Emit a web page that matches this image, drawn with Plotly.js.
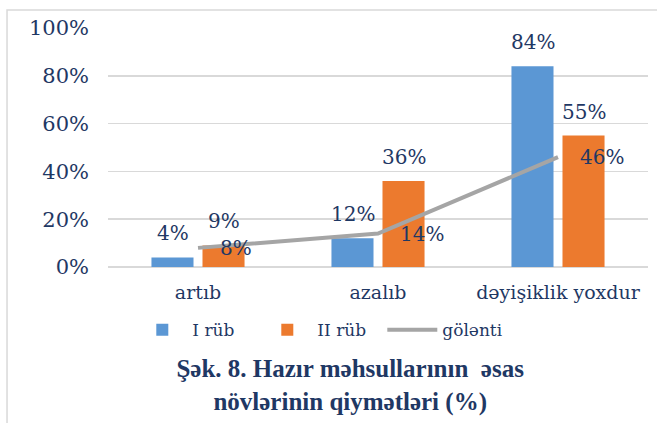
<!DOCTYPE html>
<html><head><meta charset="utf-8">
<script src="https://cdn.plot.ly/plotly-3.0.1.min.js"></script>
<style>html,body{margin:0;padding:0;background:#fff}#chart{width:657px;height:423px}</style>
</head><body><div id="chart"></div>
<script>
const categories = ['artıb', 'azalıb', 'dəyişiklik yoxdur'];
const seriesNames = ['I rüb', 'II rüb', 'gölənti'];
const q1 = [4, 12, 84];
const q2 = [9, 36, 55];
const expectation = [8, 14, 46];
const yTicks = [0, 20, 40, 60, 80, 100];
const yTickLabels = yTicks.map(v => v + '%');
const titleText = 'Şək. 8. Hazır məhsullarının  əsas<br>növlərinin qiymətləri (%)';

const NAVY = '#1F3864';
const SERIF = 'DejaVu Serif, serif';

const traces = [
  {type: 'bar', name: seriesNames[0], x: categories, y: q1,
   marker: {color: '#5B97D4'}, hoverinfo: 'none'},
  {type: 'bar', name: seriesNames[1], x: categories, y: q2,
   marker: {color: '#EC7A2E'}, hoverinfo: 'none'},
  {type: 'scatter', mode: 'lines', name: seriesNames[2], x: categories, y: expectation,
   line: {color: '#A5A5A5', width: 4}, hoverinfo: 'none'}
];

const annotations = [];
categories.forEach((c, i) => {
  annotations.push({x: c, y: q1[i], text: q1[i] + '%', showarrow: false, xshift: -25.5,
    yanchor: 'bottom', yshift: 10, font: {family: SERIF, size: 20, color: NAVY}});
  annotations.push({x: c, y: q2[i], text: q2[i] + '%', showarrow: false, xshift: 25.5,
    yanchor: 'bottom', yshift: 10, font: {family: SERIF, size: 20, color: NAVY}});
  annotations.push({x: c, y: expectation[i], text: expectation[i] + '%', showarrow: false,
    xanchor: 'left', xshift: 20, yanchor: 'middle', font: {family: SERIF, size: 20, color: NAVY}});
});

const layout = {
  width: 657, height: 423,
  margin: {l: 108, r: 9, t: 28, b: 156},
  paper_bgcolor: '#fff', plot_bgcolor: '#fff',
  barmode: 'group', bargap: 0.433, bargroupgap: 0.176,
  showlegend: true,
  legend: {orientation: 'h', x: 0.045, xanchor: 'left', y: -0.264, yanchor: 'middle',
    font: {family: SERIF, size: 17, color: NAVY}, itemwidth: 50,
    entrywidth: 60, entrywidthmode: 'pixels', traceorder: 'normal'},
  title: {text: titleText, x: 0.533, xref: 'container', xanchor: 'center',
    y: 0.108, yref: 'container', yanchor: 'middle',
    font: {family: 'Liberation Serif, serif', size: 25, color: NAVY, weight: 'bold'}},
  xaxis: {type: 'category', showline: false, showgrid: false, zeroline: false,
    ticks: '', ticklabelstandoff: 12,
    tickfont: {family: SERIF, size: 19, color: NAVY}},
  yaxis: {range: [0, 100], tickvals: yTicks, ticktext: yTickLabels, showline: false,
    gridcolor: '#D9D9D9', gridwidth: 1.5, zeroline: true, zerolinecolor: '#D9D9D9', zerolinewidth: 1.5,
    ticks: '', ticklabelstandoff: 18,
    tickfont: {family: SERIF, size: 21, color: NAVY}},
  annotations: annotations,
  shapes: [{type: 'rect', xref: 'paper', yref: 'paper', x0: -0.187, x1: 1.03, y0: -0.72, y1: 1.075,
    line: {color: '#D9D9D9', width: 1.5}, fillcolor: 'rgba(0,0,0,0)', layer: 'below'}]
};

Plotly.newPlot('chart', traces, layout, {displayModeBar: false, staticPlot: true});
</script>
</body></html>
